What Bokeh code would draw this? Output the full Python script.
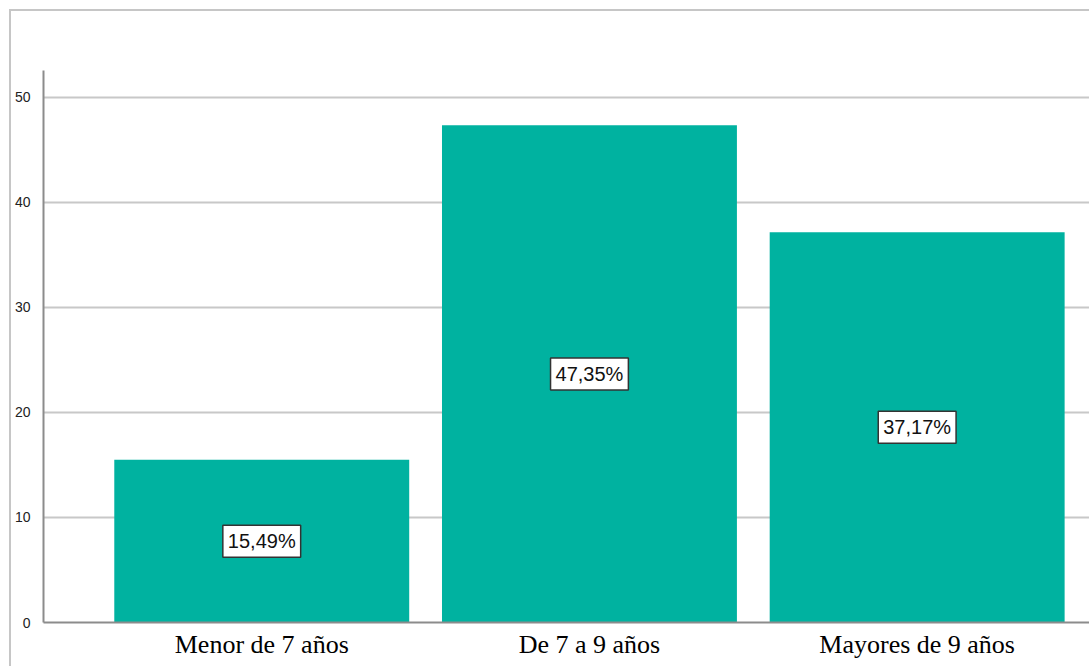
from bokeh.plotting import figure
from bokeh.models import ColumnDataSource, Range1d, FixedTicker
from bokeh.core.properties import value
from bokeh.embed import file_html
from bokeh.resources import INLINE

# Age groups and their share of the sample (%)
categories = ["Menor de 7 años", "De 7 a 9 años", "Mayores de 9 años"]
percentages = [15.49, 47.35, 37.17]
y_ticks = [0, 10, 20, 30, 40, 50]

positions = list(range(len(categories)))
labels = [f"{v:.2f}%".replace(".", ",") for v in percentages]
mids = [v / 2 for v in percentages]

source = ColumnDataSource(dict(x=positions, top=percentages, mid=mids, label=labels))

p = figure(
    width=1080, height=657,
    x_range=Range1d(-0.666, 2.532),
    y_range=Range1d(0, 52.57),
    output_backend="svg", toolbar_location=None,
    min_border_left=31, min_border_top=59, min_border_right=0, min_border_bottom=46,
)
p.styles = {
    "margin-left": "9px", "margin-top": "9px",
    "border-left": "2px solid #c6c6c6", "border-top": "2px solid #c6c6c6",
}
p.outline_line_color = None
p.background_fill_color = "white"
p.border_fill_color = "white"

p.vbar(x="x", top="top", bottom=0, width=0.9, source=source,
       fill_color="#00B2A0", line_color=None)

# Boxed value labels at mid-height of each bar
p.text(
    x="x", y="mid", text="label", source=source,
    text_align="center", text_baseline="middle",
    text_font=value("Liberation Sans"), text_font_size="20px", text_color="#111111",
    background_fill_color="white", border_line_color="#333333",
    border_line_width=1.5, padding=5,
)

# Axes
p.xaxis.ticker = FixedTicker(ticks=positions)
p.xaxis.major_label_overrides = {i: c for i, c in zip(positions, categories)}
p.xaxis.major_label_text_font = "Liberation Serif"
p.xaxis.major_label_text_font_size = "26px"
p.xaxis.major_label_text_color = "#000000"
p.xaxis.major_label_standoff = 1
p.xaxis.major_tick_line_color = None
p.xaxis.minor_tick_line_color = None
p.xaxis.axis_line_color = "#8c8c8c"
p.xaxis.axis_line_width = 2

p.yaxis.ticker = FixedTicker(ticks=y_ticks)
p.yaxis.major_label_text_font = "Liberation Sans"
p.yaxis.major_label_text_font_size = "14px"
p.yaxis.major_label_text_color = "#222222"
p.yaxis.major_label_standoff = 7
p.yaxis.major_tick_line_color = None
p.yaxis.minor_tick_line_color = None
p.yaxis.axis_line_color = "#8c8c8c"
p.yaxis.axis_line_width = 2

p.xgrid.grid_line_color = None
p.ygrid.grid_line_color = "#c8c8c8"
p.ygrid.grid_line_width = 2

open("out.html", "w").write(file_html(p, INLINE))
